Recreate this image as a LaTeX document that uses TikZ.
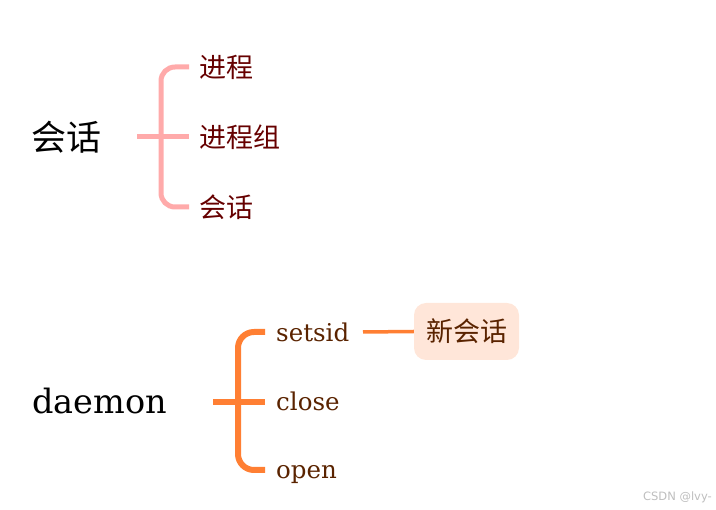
\documentclass[tikz,border=0pt]{standalone}
\usepackage{fontspec}
\setmainfont{DejaVu Serif}
\newfontfamily\cjk{Noto Sans CJK SC}
\newfontfamily\wmfont{DejaVu Sans}
\begin{document}
\begin{tikzpicture}[x=1pt,y=-1pt,
  rootcn/.style={inner sep=0pt, anchor=west, font=\cjk\fontsize{35}{40}\selectfont, text=black},
  childcn/.style={inner sep=0pt, anchor=west, font=\cjk\fontsize{27}{30}\selectfont, text={rgb,255:red,102;green,0;blue,0}},
  rooten/.style={inner sep=0pt, anchor=base west, font=\fontsize{33.5}{40}\selectfont, text=black},
  childen/.style={inner sep=0pt, anchor=base west, font=\fontsize{24.5}{30}\selectfont, text={rgb,255:red,90;green,35;blue,0}},
  pinkline/.style={draw={rgb,255:red,255;green,170;blue,170}, line width=5pt},
  orangeline/.style={draw={rgb,255:red,255;green,127;blue,51}, line width=6pt},
  leafbox/.style={fill={rgb,255:red,255;green,230;blue,217}, rounded corners=12pt, minimum width=105pt, minimum height=57pt, inner sep=0pt, font=\cjk\fontsize{27}{30}\selectfont, text={rgb,255:red,90;green,35;blue,0}},
]
\useasboundingbox (0,0) rectangle (716,510);
% top group
\node[rootcn] (r1) at (31,137) {会话};
\node[childcn] (a1) at (199,67) {进程};
\node[childcn] (a2) at (199,137) {进程组};
\node[childcn] (a3) at (199,207) {会话};
\coordinate (s1) at (137,137);
\coordinate (v1) at (161,137);
\draw[pinkline] (s1) -- ([xshift=-10pt]a2.west);
\draw[pinkline, rounded corners=14pt] ([xshift=-10pt]a1.west) -- (v1 |- a1.west) -- (v1 |- a3.west) -- ([xshift=-10pt]a3.west);
% bottom group
\node[rooten] (r2) at (32,414) {daemon};
\node[childen] (b1) at (276,342) {setsid};
\node[childen] (b2) at (276,411) {close};
\node[childen] (b3) at (276,479) {open};
\coordinate (b1l) at (265,332);
\coordinate (b2l) at (265,402);
\coordinate (b3l) at (265,470);
\coordinate (s2) at (213,402);
\coordinate (v2) at (238,402);
\draw[orangeline] (s2) -- (b2l);
\draw[orangeline, rounded corners=16pt] (b1l) -- (v2 |- b1l) -- (v2 |- b3l) -- (b3l);
\node[leafbox] (n1) at (466.5,331.5) {新会话};
\coordinate (b1r) at (363,332);
\draw[orangeline, line width=3.5pt] (b1r) -- (n1.west);
% watermark
\node[inner sep=0pt, anchor=east, font=\wmfont\fontsize{11.5}{12}\selectfont, text={rgb,255:red,190;green,190;blue,190}] (wm) at (712,497) {CSDN @lvy-};
\end{tikzpicture}
\end{document}
